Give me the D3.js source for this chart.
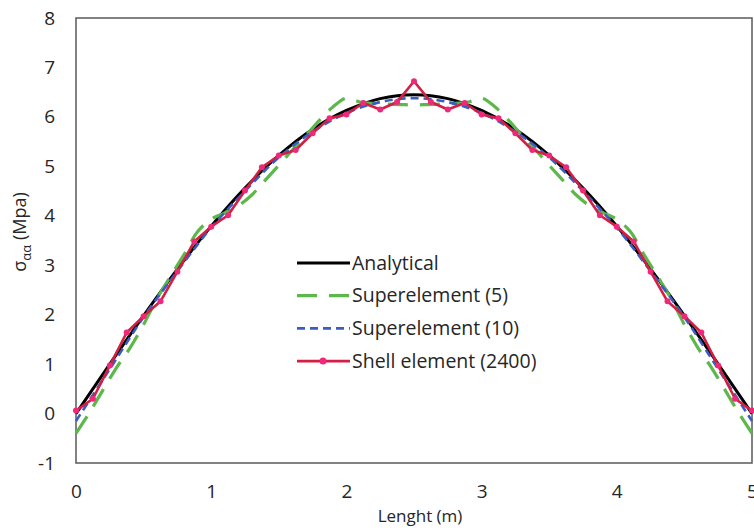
<!DOCTYPE html>
<html>
<head>
<meta charset="utf-8">
<script src="https://cdn.jsdelivr.net/npm/d3@7"></script>
<style>
  body { margin: 0; background: #fff; }
  text { font-family: "Open Sans", sans-serif; fill: #262626; }
</style>
</head>
<body>
<div id="container"></div>
<script>
const WIDTH = 754;
const HEIGHT = 530;

// analytical solution
const xAnalytical = [0, 0.25, 0.5, 0.75, 1, 1.25, 1.5, 1.75, 2, 2.25, 2.5, 2.75, 3, 3.25, 3.5, 3.75, 4, 4.25, 4.5, 4.75, 5];
const yAnalytical = [0, 1.0, 1.98, 2.92, 3.79, 4.56, 5.22, 5.75, 6.13, 6.37, 6.45, 6.37, 6.13, 5.75, 5.22, 4.56, 3.79, 2.92, 1.98, 1.0, 0];

// superelement (5)
const xSuper5 = [0, 0.1, 0.2, 0.3, 0.4, 0.5, 0.6, 0.7, 0.8, 0.9, 1, 1.1, 1.2, 1.3, 1.4, 1.5, 1.6, 1.7, 1.8, 1.9, 2, 2.1, 2.2, 2.3, 2.4, 2.5,
  2.6, 2.7, 2.8, 2.9, 3, 3.1, 3.2, 3.3, 3.4, 3.5, 3.6, 3.7, 3.8, 3.9, 4, 4.1, 4.2, 4.3, 4.4, 4.5, 4.6, 4.7, 4.8, 4.9, 5];
const ySuper5 = [-0.40, 0.02, 0.48, 0.93, 1.33, 1.80, 2.33, 2.78, 3.22, 3.68, 3.93, 4.06, 4.20, 4.42, 4.72, 5.02, 5.33, 5.62, 5.93, 6.20, 6.38, 6.30, 6.27, 6.26, 6.25, 6.24,
  6.25, 6.26, 6.27, 6.30, 6.38, 6.20, 5.93, 5.62, 5.33, 5.02, 4.72, 4.42, 4.20, 4.06, 3.93, 3.68, 3.22, 2.78, 2.33, 1.80, 1.33, 0.93, 0.48, 0.02, -0.40];

// superelement (10)
const xSuper10 = [0, 0.25, 0.5, 0.75, 1, 1.25, 1.5, 1.75, 2, 2.25, 2.5, 2.75, 3, 3.25, 3.5, 3.75, 4, 4.25, 4.5, 4.75, 5];
const ySuper10 = [-0.15, 0.90, 1.95, 2.88, 3.76, 4.50, 5.18, 5.70, 6.08, 6.30, 6.38, 6.30, 6.08, 5.70, 5.18, 4.50, 3.76, 2.88, 1.95, 0.90, -0.15];

// shell element (2400)
const xShell = [0, 0.125, 0.25, 0.375, 0.5, 0.625, 0.75, 0.875, 1, 1.125, 1.25, 1.375, 1.5, 1.625, 1.75, 1.875, 2, 2.125, 2.25, 2.375, 2.5,
  2.625, 2.75, 2.875, 3, 3.125, 3.25, 3.375, 3.5, 3.625, 3.75, 3.875, 4, 4.125, 4.25, 4.375, 4.5, 4.625, 4.75, 4.875, 5];
const yShell = [0.06, 0.30, 0.97, 1.64, 1.97, 2.27, 2.87, 3.48, 3.78, 4.01, 4.51, 4.98, 5.22, 5.33, 5.67, 5.97, 6.05, 6.28, 6.15, 6.30, 6.72,
  6.30, 6.15, 6.28, 6.05, 5.97, 5.67, 5.33, 5.22, 4.98, 4.51, 4.01, 3.78, 3.48, 2.87, 2.27, 1.97, 1.64, 0.97, 0.30, 0.06];

const xTicks = [0, 1, 2, 3, 4, 5];
const yTicks = [-1, 0, 1, 2, 3, 4, 5, 6, 7, 8];
const legendNames = ["Analytical", "Superelement (5)", "Superelement (10)", "Shell element (2400)"];

var zip = function (xs, ys) {
    return xs.map(function (x, i) { return {x: x, y: ys[i]}; });
};

var createChart = function () {
    var svg = d3.select("#container")
        .append("svg")
        .attr("width", WIDTH)
        .attr("height", HEIGHT);

    var xScale = d3.scaleLinear().domain([0, 5]).range([76, 752]);
    var yScale = d3.scaleLinear().domain([-1, 8]).range([463, 18]);

    // plot frame
    svg.append("rect")
        .attr("x", xScale(0))
        .attr("y", yScale(8))
        .attr("width", xScale(5) - xScale(0))
        .attr("height", yScale(-1) - yScale(8))
        .attr("fill", "none")
        .attr("stroke", "#595959")
        .attr("stroke-width", 1.5);

    var plain = function (d) { return String(d); };
    var xAxis = d3.axisBottom(xScale).tickValues(xTicks).tickSize(0).tickPadding(22).tickFormat(plain);
    var yAxis = d3.axisLeft(yScale).tickValues(yTicks).tickSize(0).tickPadding(21).tickFormat(plain);

    var gx = svg.append("g").attr("transform", translate(0, yScale(-1))).call(xAxis);
    var gy = svg.append("g").attr("transform", translate(xScale(0), 0)).call(yAxis);
    [gx, gy].forEach(function (g) {
        g.select(".domain").remove();
        g.attr("font-size", 19).attr("font-family", "'Open Sans', sans-serif");
        g.selectAll("text")
            .attr("font-size", 19)
            .attr("fill", "#262626");
    });
    gy.selectAll(".tick text").attr("x", -21).attr("text-anchor", "end");

    svg.append("text")
        .attr("x", 420)
        .attr("y", 522)
        .attr("text-anchor", "middle")
        .attr("font-size", 17)
        .text("Lenght (m)");

    var yTitle = svg.append("text")
        .attr("transform", translate(26, 232) + " rotate(-90)")
        .attr("text-anchor", "middle")
        .attr("font-size", 18);
    yTitle.append("tspan").text("σ");
    yTitle.append("tspan").attr("dy", 5).attr("font-size", 13).text("αα");
    yTitle.append("tspan").attr("dy", -5).text(" (Mpa)");

    var smooth = d3.line()
        .x(function (d) { return xScale(d.x); })
        .y(function (d) { return yScale(d.y); })
        .curve(d3.curveCatmullRom);
    var straight = d3.line()
        .x(function (d) { return xScale(d.x); })
        .y(function (d) { return yScale(d.y); });

    var styles = [
        {color: "#000000", width: 3, dash: null},
        {color: "#5cb84a", width: 3.2, dash: "20,12"},
        {color: "#3b5cc0", width: 2.6, dash: "8,5"},
        {color: "#d41f45", width: 2.6, dash: null}
    ];

    svg.append("path")
        .attr("d", smooth(zip(xAnalytical, yAnalytical)))
        .attr("fill", "none").attr("stroke", styles[0].color).attr("stroke-width", styles[0].width);

    svg.append("path")
        .attr("d", smooth(zip(xSuper5, ySuper5)))
        .attr("fill", "none").attr("stroke", styles[1].color).attr("stroke-width", styles[1].width)
        .attr("stroke-dasharray", styles[1].dash);

    svg.append("path")
        .attr("d", smooth(zip(xSuper10, ySuper10)))
        .attr("fill", "none").attr("stroke", styles[2].color).attr("stroke-width", styles[2].width)
        .attr("stroke-dasharray", styles[2].dash);

    var shellData = zip(xShell, yShell);
    svg.append("path")
        .attr("d", straight(shellData))
        .attr("fill", "none").attr("stroke", styles[3].color).attr("stroke-width", styles[3].width)
        .attr("stroke-linejoin", "round");

    svg.selectAll("circle.shell").data(shellData)
        .enter()
        .append("circle")
        .attr("class", "shell")
        .attr("r", 3)
        .attr("cx", function (d) { return xScale(d.x); })
        .attr("cy", function (d) { return yScale(d.y); })
        .attr("fill", "#f0287a");

    // legend
    var legend = svg.append("g").attr("transform", translate(297, 263));
    legendNames.forEach(function (name, i) {
        var row = legend.append("g").attr("transform", translate(0, i * 32.7));
        row.append("line")
            .attr("x1", 0).attr("x2", 53).attr("y1", 0).attr("y2", 0)
            .attr("stroke", styles[i].color)
            .attr("stroke-width", styles[i].width)
            .attr("stroke-dasharray", styles[i].dash);
        if (i === 3) {
            row.append("circle").attr("cx", 26).attr("cy", 0).attr("r", 3.5).attr("fill", "#f0287a");
        }
        row.append("text")
            .attr("x", 55)
            .attr("y", 6.5)
            .attr("font-size", 19.5)
            .text(name);
    });
};

var translate = function (x, y) {
    return "translate(" + x + "," + y + ")";
};

window.onload = createChart;
</script>
</body>
</html>
